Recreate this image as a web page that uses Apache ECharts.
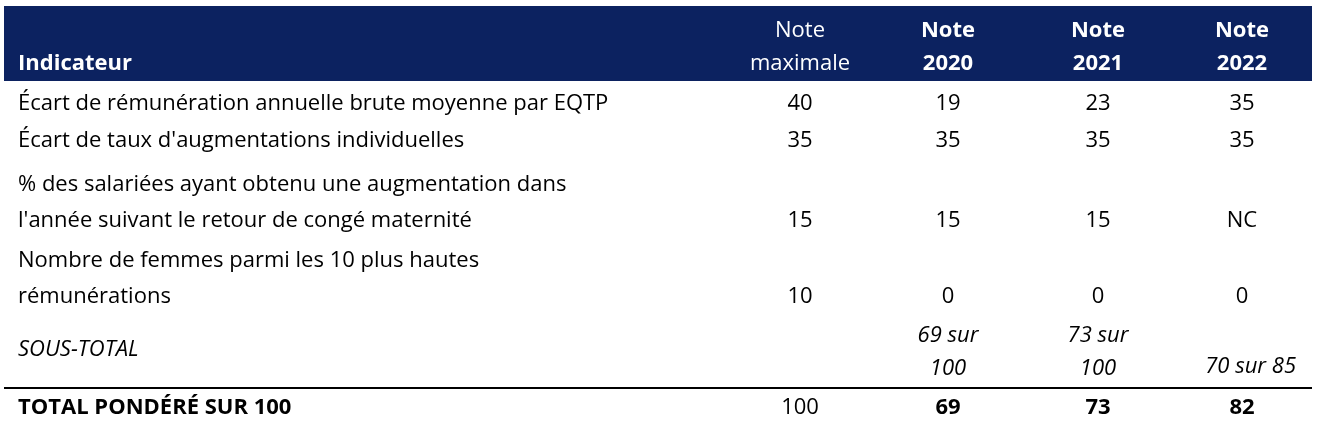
<!DOCTYPE html>
<html>
<head>
<meta charset="utf-8">
<script src="https://cdn.jsdelivr.net/npm/echarts@6/dist/echarts.min.js"></script>
<style>
  html, body { margin: 0; padding: 0; background: #fff; }
  #chart { width: 1318px; height: 436px; }
</style>
</head>
<body>
<div id="chart"></div>
<script>
// données du tableau
const headers = ['Indicateur', 'Note\nmaximale', 'Note\n2020', 'Note\n2021', 'Note\n2022'];
const indicateurs = [
  'Écart de rémunération annuelle brute moyenne par EQTP',
  "Écart de taux d'augmentations individuelles",
  "% des salariées ayant obtenu une augmentation dans\nl'année suivant le retour de congé maternité",
  'Nombre de femmes parmi les 10 plus hautes\nrémunérations'
];
const noteMax = ['40', '35', '15', '10'];
const note2020 = ['19', '35', '15', '0'];
const note2021 = ['23', '35', '15', '0'];
const note2022 = ['35', '35', 'NC', '0'];
const sousTotal = ['', '69 sur\n100', '73 sur\n100', '70 sur 85'];
const total = ['TOTAL PONDÉRÉ SUR 100', '100', '69', '73', '82'];

const font = '"Open Sans", "Noto Sans", sans-serif';
const size = '22px ';
const colX = [18, 800, 948, 1098, 1242];
const rowY = [104, 141, 221, 297]; // centre de la dernière ligne de texte
const lineH = 36;

const chart = echarts.init(document.getElementById('chart'));
const els = [];

function txt(x, y, s, opt) {
  els.push({
    type: 'text', x: x, y: y,
    style: Object.assign({
      text: s, font: size + font, fill: '#000',
      textAlign: 'center', textVerticalAlign: 'bottom', lineHeight: lineH
    }, opt || {})
  });
}

// en-tête
els.push({ type: 'rect', shape: { x: 4, y: 6, width: 1308, height: 75 }, style: { fill: '#0c2260' } });
headers.forEach((h, i) => {
  txt(colX[i], 80, h, {
    fill: '#fff', textAlign: i === 0 ? 'left' : 'center',
    font: (i === 1 ? '' : 'bold ') + size + font,
    lineHeight: 33
  });
});

// lignes d'indicateurs
indicateurs.forEach((ind, r) => {
  const y = rowY[r] + 18;
  txt(colX[0], y, ind, { textAlign: 'left' });
  [noteMax, note2020, note2021, note2022].forEach((col, c) => {
    txt(colX[c + 1], y, col[r]);
  });
});

// sous-total
txt(colX[0], 368, 'SOUS-TOTAL', { textAlign: 'left', font: 'italic ' + size + font });
sousTotal.forEach((s, c) => {
  if (!s) return;
  if (c === 3) txt(1296, 385, s, { textAlign: 'right', font: 'italic ' + size + font });
  else txt(colX[c + 1], 385, s, { font: 'italic ' + size + font, lineHeight: 33 });
});

// séparateur
els.push({ type: 'line', shape: { x1: 4, y1: 388, x2: 1312, y2: 388 }, style: { stroke: '#000', lineWidth: 2 } });

// total
total.forEach((s, i) => {
  txt(colX[i], 426, s, {
    textAlign: i === 0 ? 'left' : 'center',
    font: (i === 1 ? '' : 'bold ') + size + font
  });
});

chart.setOption({ animation: false, graphic: { elements: els } });
window.addEventListener('resize', () => chart.resize());
</script>
</body>
</html>
